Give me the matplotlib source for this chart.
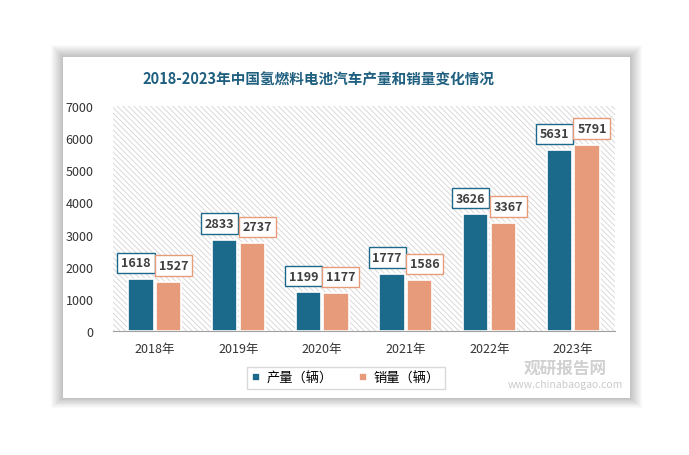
import numpy as np
import matplotlib
matplotlib.use('Agg')
import matplotlib.pyplot as plt
from matplotlib.patches import Rectangle

plt.rcParams['font.family'] = ['Noto Sans CJK SC', 'DejaVu Sans']
plt.rcParams['hatch.linewidth'] = 0.6

# data
years = ['2018年', '2019年', '2020年', '2021年', '2022年', '2023年']
production = [1618, 2833, 1199, 1777, 3626, 5631]
sales = [1527, 2737, 1177, 1586, 3367, 5791]
series_names = ['产量（辆）', '销量（辆）']

blue = '#1b6a8c'
orange = '#e89b7b'

W, H = 689, 456
fig = plt.figure(figsize=(W / 100, H / 100), dpi=100)
fig.patch.set_facecolor('white')

# card with soft shadow
cx0, cy0, cx1, cy1 = 63, 58, 630, 399
for i in range(12, 0, -1):
    fig.patches.append(Rectangle(((cx0 - i) / W, 1 - (cy1 + i * 0.8) / H),
                                 (cx1 - cx0 + 2 * i) / W, (cy1 - cy0 + i * 1.8) / H,
                                 transform=fig.transFigure, facecolor='black',
                                 alpha=0.018, edgecolor='none', zorder=-10))
fig.patches.append(Rectangle((cx0 / W, 1 - cy1 / H), (cx1 - cx0) / W, (cy1 - cy0) / H,
                             transform=fig.transFigure, facecolor='white',
                             edgecolor='none', zorder=-5))

ax = fig.add_axes([113 / W, 1 - 332 / H, 502 / W, 225 / H])
ax.set_facecolor('none')
ax.add_patch(Rectangle((0, 0), 1, 1, transform=ax.transAxes, facecolor='white',
                       edgecolor='#d4d4d4', hatch='\\\\\\\\\\\\', linewidth=0, zorder=0))

x = np.arange(len(years))
bw = 0.3
off = 0.165
ax.bar(x - off, production, bw, color=blue, edgecolor='white', linewidth=1.2,
       label=series_names[0], zorder=3)
ax.bar(x + off, sales, bw, color=orange, edgecolor='white', linewidth=1.2,
       label=series_names[1], zorder=3)

for xi, v in zip(x, production):
    ax.annotate(str(v), (xi - off - 0.06, v), xytext=(0, 7), textcoords='offset points',
                ha='center', va='bottom', fontsize=9, fontweight='bold', color='#404040',
                bbox=dict(boxstyle='square,pad=0.3', facecolor='white', edgecolor=blue, linewidth=1),
                zorder=5)
for xi, v in zip(x, sales):
    ax.annotate(str(v), (xi + off + 0.06, v), xytext=(0, 7), textcoords='offset points',
                ha='center', va='bottom', fontsize=9, fontweight='bold', color='#404040',
                bbox=dict(boxstyle='square,pad=0.3', facecolor='white', edgecolor=orange, linewidth=1),
                zorder=5)

ax.set_xlim(-0.5, len(years) - 0.5)
ax.set_ylim(0, 7000)
ax.set_yticks(range(0, 7001, 1000))
ax.set_xticks(x)
ax.set_xticklabels(years, fontsize=9, color='#333333')
ax.tick_params(axis='y', labelsize=9, labelcolor='#333333', length=0, pad=14)
ax.tick_params(axis='x', length=0, pad=8)
for s in ['top', 'right', 'left']:
    ax.spines[s].set_visible(False)
ax.spines['bottom'].set_color('#a0a0a0')
ax.spines['bottom'].set_zorder(4)

leg = ax.legend(loc='center', bbox_to_anchor=(346 / W, 1 - 379 / H),
                bbox_transform=fig.transFigure, ncol=2, fontsize=9.5, frameon=True,
                fancybox=False, edgecolor='#d0d0d0', handlelength=0.6, handleheight=0.6,
                columnspacing=2.0, handletextpad=0.5, borderpad=0.35)
leg.get_frame().set_linewidth(1)

fig.text(318 / W, 1 - 80 / H, '2018-2023年中国氢燃料电池汽车产量和销量变化情况',
         ha='center', va='center', fontsize=10.5, fontweight='bold', color='#1f5f7f')

# watermark
fig.text(565 / W, 1 - 369 / H, '观研报告网', ha='center', va='center', fontsize=12,
         fontweight='bold', color='#bdbdbd', alpha=0.7, zorder=10)
fig.text(565 / W, 1 - 385 / H, 'www.chinabaogao.com', ha='center', va='center', fontsize=7.5,
         color='#bdbdbd', alpha=0.8, zorder=10)

fig.savefig('out.png', dpi=100)
